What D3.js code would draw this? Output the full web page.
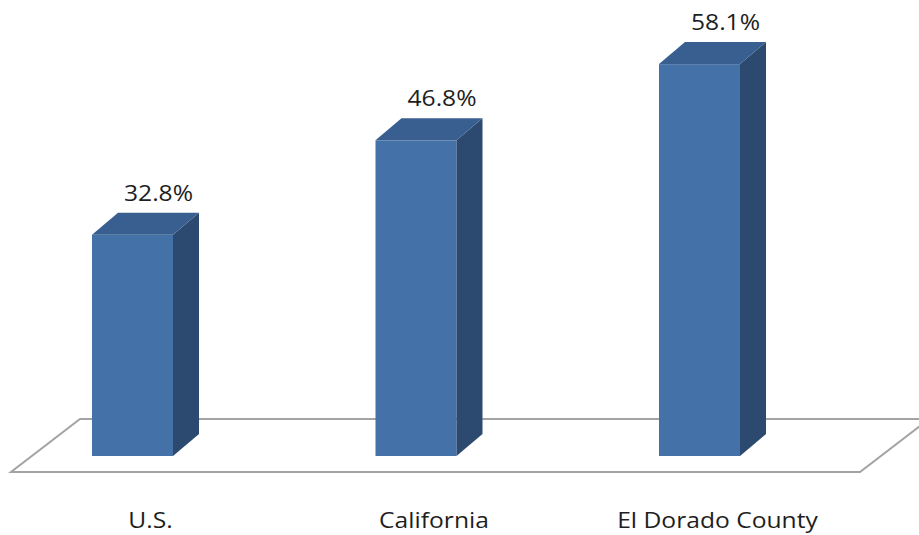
<!DOCTYPE html>
<html>
<head>
<meta charset="utf-8">
<script src="https://cdn.jsdelivr.net/npm/d3@7"></script>
<style>
  html, body { margin: 0; padding: 0; background: #fff; }
  svg { display: block; }
  text { font-family: "Open Sans", "DejaVu Sans", sans-serif; fill: #1e1e1e; }
</style>
</head>
<body>
<svg id="chart" width="919" height="535"></svg>
<script>
// Share of population (percent) by area
const categories = ["U.S.", "California", "El Dorado County"];
const values = [32.8, 46.8, 58.1];
const valueLabels = ["32.8%", "46.8%", "58.1%"];

const W = 919, H = 535;
const svg = d3.select("#chart");

// bar centres and value scale
const x = d3.scalePoint().domain(categories).range([132.5, 699.5]);
const y = d3.scaleLinear().domain([0, 60]).range([456, 456 - 60 * 6.745]);
const barW = 81;
const depthX = 26, depthY = 22;
const textStretch = 1.12;

const colors = { front: "#4571a9", side: "#2c4a6f", top: "#385f8f" };

// floor plane (perspective parallelogram)
const base = y(0);
const floorFront = base + 16, floorBack = base - 37;
const xFirst = x(categories[0]), xLast = x(categories[categories.length - 1]);
const floorPts = [
  [xFirst - 121.5, floorFront],
  [xLast + 160.5, floorFront],
  [xLast + 229.5, floorBack],
  [xFirst - 52.5, floorBack]
];
svg.append("polygon")
  .attr("points", floorPts.map(p => p.join(",")).join(" "))
  .attr("fill", "#fff")
  .attr("stroke", "#a3a3a3")
  .attr("stroke-width", 2);

const data = categories.map((c, i) => ({ c, v: values[i], label: valueLabels[i] }));

const bars = svg.selectAll("g.bar").data(data).join("g").attr("class", "bar");

// front face
bars.append("rect")
  .attr("x", d => x(d.c) - barW / 2)
  .attr("y", d => y(d.v))
  .attr("width", barW)
  .attr("height", d => y(0) - y(d.v))
  .attr("fill", colors.front);

// side face
bars.append("polygon")
  .attr("points", d => {
    const r = x(d.c) + barW / 2, t = y(d.v), b = y(0);
    return [[r, t], [r + depthX, t - depthY], [r + depthX, b - depthY], [r, b]]
      .map(p => p.join(",")).join(" ");
  })
  .attr("fill", colors.side);

// top face
bars.append("polygon")
  .attr("points", d => {
    const l = x(d.c) - barW / 2, r = x(d.c) + barW / 2, t = y(d.v);
    return [[l, t], [l + depthX, t - depthY], [r + depthX, t - depthY], [r, t]]
      .map(p => p.join(",")).join(" ");
  })
  .attr("fill", colors.top);

// value labels above each bar (slightly widened glyphs)
bars.append("text")
  .attr("transform", d => `translate(${x(d.c) + depthX},${y(d.v) - depthY - 12}) scale(${textStretch},1)`)
  .attr("text-anchor", "middle")
  .attr("font-size", 22)
  .text(d => d.label);

// category labels
svg.selectAll("text.cat").data(categories).join("text")
  .attr("class", "cat")
  .attr("transform", d => `translate(${x(d) + 18},528) scale(${textStretch},1)`)
  .attr("text-anchor", "middle")
  .attr("font-size", 22)
  .text(d => d);
</script>
</body>
</html>
